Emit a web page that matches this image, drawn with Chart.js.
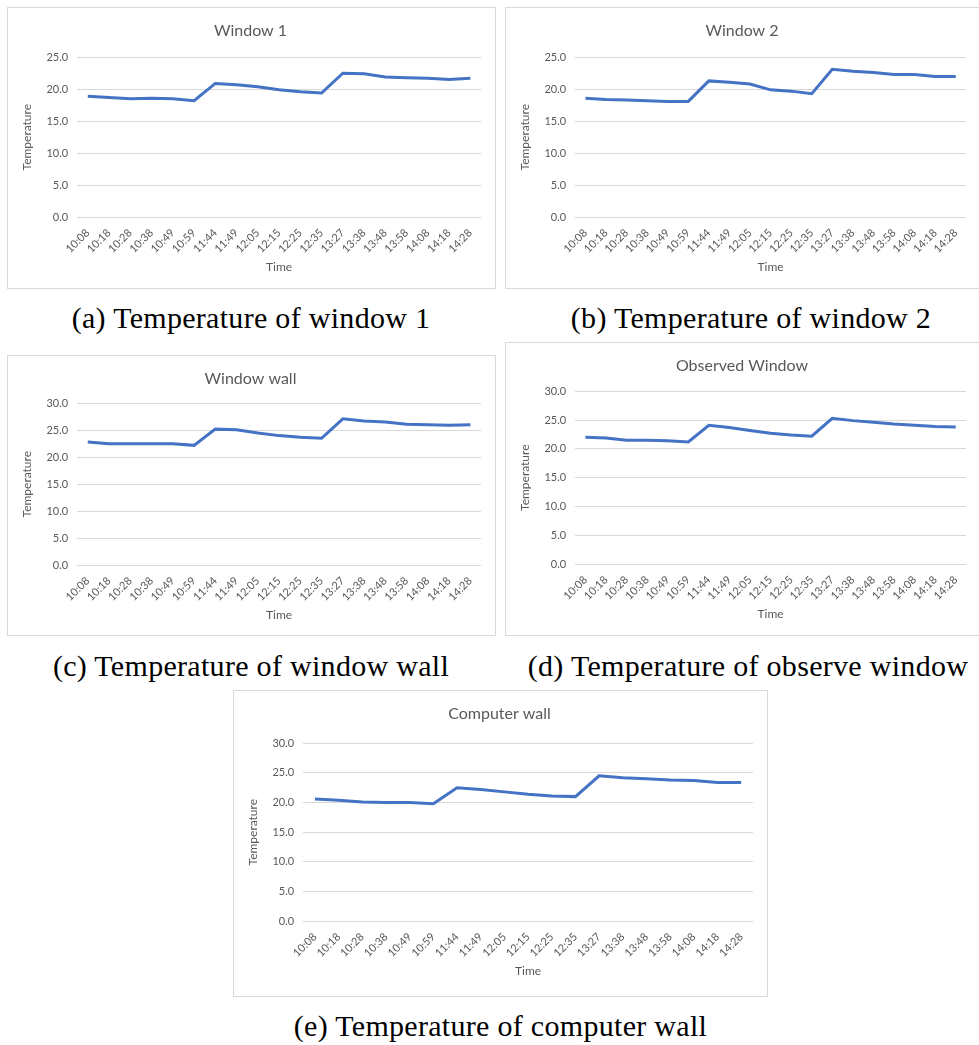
<!DOCTYPE html>
<html>
<head>
<meta charset="utf-8">
<script src="https://cdn.jsdelivr.net/npm/chart.js@4.4.0/dist/chart.umd.min.js"></script>
<style>
	html, body { margin: 0; padding: 0; background: #fff; }
	body { width: 979px; height: 1045px; position: relative; overflow: hidden; }
	.panel { position: absolute; border: 1px solid #d9d9d9; box-sizing: border-box; background: #fff; }
	.caption { position: absolute; font-family: "Liberation Serif", serif; font-size: 30px; letter-spacing: 0.3px; color: #000; text-align: center; white-space: nowrap; }
</style>
</head>
<body>
	<div class="panel" style="left:7px; top:7px; width:489px; height:282px;"><canvas id="window1Chart"></canvas></div>
	<div class="panel" style="left:505px; top:7px; width:476px; height:282px;"><canvas id="window2Chart"></canvas></div>
	<div class="caption" style="left:0px; top:301px; width:502px;">(a) Temperature of window 1</div>
	<div class="caption" style="left:502px; top:301px; width:498px;">(b) Temperature of window 2</div>

	<div class="panel" style="left:7px; top:355px; width:489px; height:281px;"><canvas id="windowWallChart"></canvas></div>
	<div class="panel" style="left:505px; top:342px; width:476px; height:294px;"><canvas id="observedWindowChart"></canvas></div>
	<div class="caption" style="left:0px; top:649px; width:502px;">(c) Temperature of window wall</div>
	<div class="caption" style="left:500px; top:649px; width:496px;">(d) Temperature of observe window</div>

	<div class="panel" style="left:233px; top:690px; width:535px; height:307px;"><canvas id="computerWallChart"></canvas></div>
	<div class="caption" style="left:233px; top:1009px; width:535px;">(e) Temperature of computer wall</div>

<script>
(function () {
	'use strict';

	const timeLabels = ['10:08', '10:18', '10:28', '10:38', '10:49', '10:59', '11:44', '11:49', '12:05', '12:15',
		'12:25', '12:35', '13:27', '13:38', '13:48', '13:58', '14:08', '14:18', '14:28'];

	const window1Temps = [18.9, 18.7, 18.5, 18.6, 18.5, 18.2, 20.9, 20.7, 20.4, 19.9, 19.6, 19.4, 22.5, 22.4, 21.9, 21.8, 21.7, 21.5, 21.7];
	const window2Temps = [18.6, 18.4, 18.3, 18.2, 18.1, 18.1, 21.3, 21.1, 20.8, 19.9, 19.7, 19.3, 23.1, 22.8, 22.6, 22.3, 22.3, 22.0, 22.0];
	const windowWallTemps = [22.8, 22.5, 22.5, 22.5, 22.5, 22.2, 25.2, 25.1, 24.5, 24.0, 23.7, 23.5, 27.1, 26.7, 26.5, 26.1, 26.0, 25.9, 26.0];
	const observedWindowTemps = [22.0, 21.9, 21.5, 21.5, 21.4, 21.2, 24.1, 23.7, 23.2, 22.7, 22.4, 22.2, 25.3, 24.9, 24.6, 24.3, 24.1, 23.9, 23.8];
	const computerWallTemps = [20.6, 20.4, 20.1, 20.0, 20.0, 19.8, 22.5, 22.2, 21.8, 21.4, 21.1, 21.0, 24.5, 24.2, 24.0, 23.8, 23.7, 23.4, 23.4];

	const textColor = '#595959';
	const gridColor = '#d9d9d9';
	const lineColor = '#4472c4';
	const fontFamily = 'Lato, "Open Sans", sans-serif';

	function createChart(canvasId, title, values, yMax, titlePad, bottomPad) {
		const canvas = document.getElementById(canvasId);
		if (!canvas) return null;
		return new Chart(canvas, {
			type: 'line',
			data: {
				labels: timeLabels,
				datasets: [{
					label: title,
					data: values,
					borderColor: lineColor,
					backgroundColor: lineColor,
					borderWidth: 3,
					pointRadius: 0,
					tension: 0,
					fill: false
				}]
			},
			options: {
				responsive: true,
				maintainAspectRatio: false,
				animation: false,
				layout: { padding: { left: 12, right: 14, top: 7, bottom: bottomPad } },
				plugins: {
					legend: { display: false },
					tooltip: { enabled: false },
					title: {
						display: true,
						text: title,
						color: textColor,
						font: { family: fontFamily, size: 16, weight: 'normal' },
						padding: { top: 6, bottom: titlePad }
					}
				},
				scales: {
					x: {
						offset: true,
						grid: { display: false },
						border: { display: false },
						ticks: {
							color: textColor,
							font: { family: fontFamily, size: 11 },
							minRotation: 45,
							maxRotation: 45,
							autoSkip: false,
							padding: 1
						},
						title: {
							display: true,
							text: 'Time',
							color: textColor,
							font: { family: fontFamily, size: 12 },
							padding: { top: 3, bottom: 0 }
						}
					},
					y: {
						min: 0,
						max: yMax,
						grid: { color: gridColor, lineWidth: 1, drawTicks: false },
						border: { display: false },
						ticks: {
							stepSize: 5,
							color: textColor,
							font: { family: fontFamily, size: 11 },
							padding: 9,
							callback: function (value) { return Number(value).toFixed(1); }
						},
						title: {
							display: true,
							text: 'Temperature',
							color: textColor,
							font: { family: fontFamily, size: 12 },
							padding: { top: 0, bottom: 3 }
						}
					}
				}
			}
		});
	}

	createChart('window1Chart', 'Window 1', window1Temps, 25, 17, 14);
	createChart('window2Chart', 'Window 2', window2Temps, 25, 17, 14);
	createChart('windowWallChart', 'Window wall', windowWallTemps, 30, 15, 13);
	createChart('observedWindowChart', 'Observed Window', observedWindowTemps, 30, 16, 14);
	createChart('computerWallChart', 'Computer wall', computerWallTemps, 30, 20, 18);
})();
</script>
</body>
</html>
